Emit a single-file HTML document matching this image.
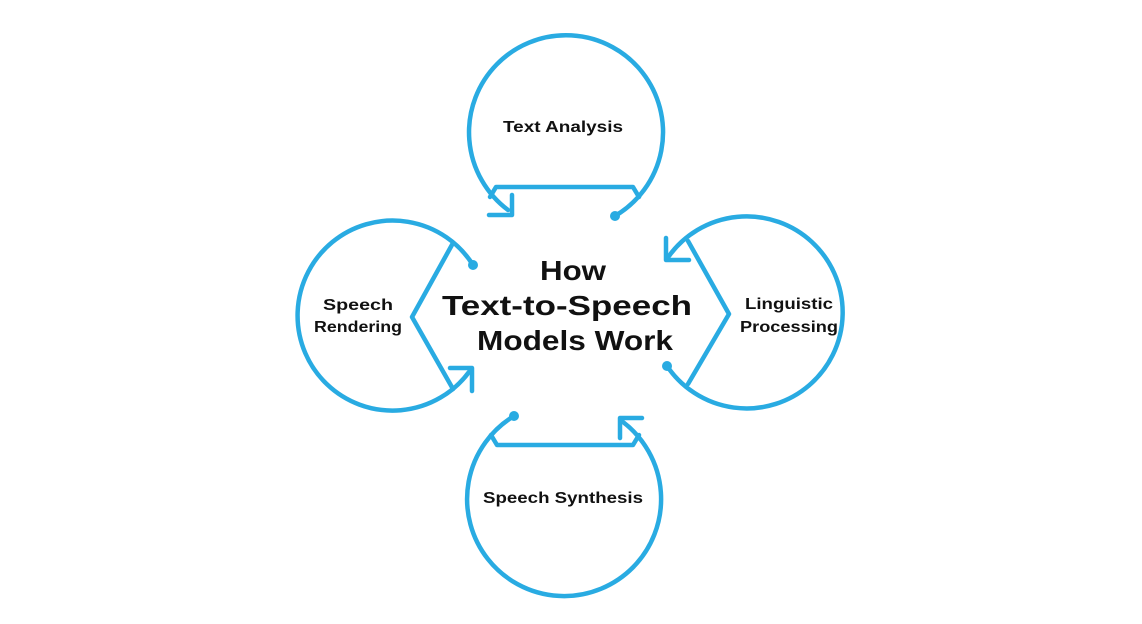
<!DOCTYPE html>
<html><head><style>html,body{margin:0;padding:0;background:#fff;}svg{display:block}</style></head>
<body>
<svg width="1142" height="624" viewBox="0 0 1142 624" xmlns="http://www.w3.org/2000/svg">
<g fill="none" stroke="#29abe2" stroke-width="4.5" stroke-linecap="round" stroke-linejoin="round">
  <!-- top -->
  <path d="M615,216 A97,97 0 1 0 508,210"/>
  <path d="M490,197 L496,187 L633,187 L639,197"/>
  <path d="M512,195 L512,215 L489,215"/>
  <!-- right -->
  <path d="M667,366 A96,96 0 1 0 669,256"/>
  <path d="M688,241 L729,314 L688,384"/>
  <path d="M666,238 L666,260 L689,260"/>
  <!-- bottom -->
  <path d="M514,416 A97,97 0 1 0 623,422"/>
  <path d="M491,435 L497,445 L633,445 L639,435"/>
  <path d="M620,438 L620,418 L642,418"/>
  <!-- left -->
  <path d="M473,265 A95,95 0 1 0 469,372"/>
  <path d="M453,243 L412,317 L453,389"/>
  <path d="M450,368 L472,368 L472,391"/>
</g>
<g fill="#29abe2">
  <circle cx="615" cy="216" r="5"/>
  <circle cx="667" cy="366" r="5"/>
  <circle cx="514" cy="416" r="5"/>
  <circle cx="473" cy="265" r="5"/>
</g>
<g font-family="Liberation Sans, sans-serif" font-weight="bold" fill="#111" text-anchor="middle">
  <text x="563" y="132" font-size="16" textLength="120" lengthAdjust="spacingAndGlyphs">Text Analysis</text>
  <text x="789" y="309" font-size="16" textLength="88" lengthAdjust="spacingAndGlyphs">Linguistic</text>
  <text x="789" y="332" font-size="16" textLength="98" lengthAdjust="spacingAndGlyphs">Processing</text>
  <text x="358" y="310" font-size="16" textLength="70" lengthAdjust="spacingAndGlyphs">Speech</text>
  <text x="358" y="332" font-size="16" textLength="88" lengthAdjust="spacingAndGlyphs">Rendering</text>
  <text x="563" y="503" font-size="16" textLength="160" lengthAdjust="spacingAndGlyphs">Speech Synthesis</text>
  <text x="573" y="280" font-size="28" textLength="66" lengthAdjust="spacingAndGlyphs">How</text>
  <text x="567" y="315" font-size="28" textLength="250" lengthAdjust="spacingAndGlyphs">Text-to-Speech</text>
  <text x="575" y="350" font-size="28" textLength="196" lengthAdjust="spacingAndGlyphs">Models Work</text>
</g>
</svg>
</body></html>
